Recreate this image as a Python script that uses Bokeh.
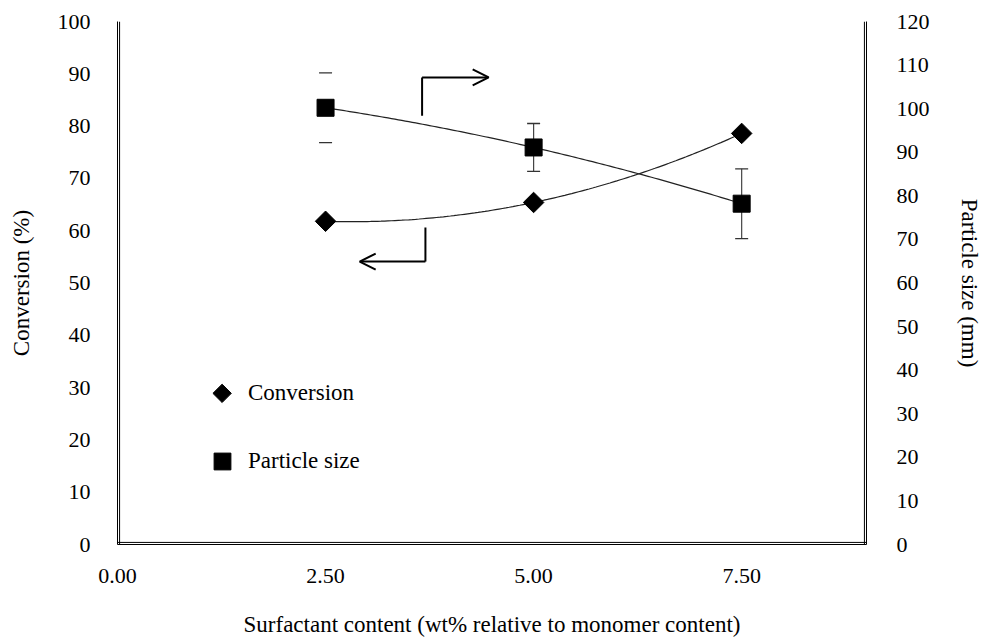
import numpy as np
from bokeh.plotting import figure
from bokeh.models import (Range1d, LinearAxis, FixedTicker, PrintfTickFormatter, Whisker,
                          ColumnDataSource, Arrow, OpenHead, TeeHead, Legend, LegendItem, Span)
from bokeh.embed import file_html
from bokeh.resources import INLINE

# ---- data ----
surfactant = [2.5, 5.0, 7.5]
conversion = [61.8, 65.4, 78.6]
particle_size = [100.2, 91.1, 78.2]
particle_err = [8.0, 5.5, 8.0]
x_ticks = [0, 2.5, 5.0, 7.5]
conv_ticks = list(range(0, 101, 10))
size_ticks = list(range(0, 121, 10))

FONT = "Liberation Serif"

p = figure(width=984, height=639, x_range=Range1d(0, 9), y_range=Range1d(0, 100),
           output_backend="svg", toolbar_location=None,
           min_border_left=117, min_border_right=115, min_border_top=21, min_border_bottom=95)
p.extra_y_ranges = {"size": Range1d(0, 120)}
p.xgrid.visible = False
p.ygrid.visible = False
p.outline_line_color = None

# second-order trendlines (fitted to the data points)
xs = np.linspace(surfactant[0], surfactant[-1], 121)
conv_fit = np.polyval(np.polyfit(surfactant, conversion, 2), xs)
size_fit = np.polyval(np.polyfit(surfactant, particle_size, 2), xs)
p.line(xs, conv_fit, line_color="#222222", line_width=1.2)
p.line(xs, size_fit, line_color="#222222", line_width=1.2, y_range_name="size")

# error bars on particle size
up = [s + e for s, e in zip(particle_size, particle_err)]
lo = [s - e for s, e in zip(particle_size, particle_err)]
src_first = ColumnDataSource(dict(x=surfactant[:1], upper=up[:1], lower=lo[:1]))
src_rest = ColumnDataSource(dict(x=surfactant[1:], upper=up[1:], lower=lo[1:]))
p.add_layout(Whisker(source=src_first, base="x", upper="upper", lower="lower", y_range_name="size",
                     line_alpha=0,
                     upper_head=TeeHead(size=13, line_color="#333333", line_width=1.3),
                     lower_head=TeeHead(size=13, line_color="#333333", line_width=1.3)))
p.add_layout(Whisker(source=src_rest, base="x", upper="upper", lower="lower", y_range_name="size",
                     line_color="#444444", line_width=1.2,
                     upper_head=TeeHead(size=13, line_color="#333333", line_width=1.3),
                     lower_head=TeeHead(size=13, line_color="#333333", line_width=1.3)))

r_conv = p.scatter(surfactant, conversion, marker="square", angle=np.pi / 4, size=14.5,
                   fill_color="black", line_color="black")
r_size = p.scatter(surfactant, particle_size, marker="square", size=17,
                   fill_color="black", line_color="black", y_range_name="size")

# axes
xa = p.xaxis[0]
xa.ticker = FixedTicker(ticks=x_ticks)
xa.formatter = PrintfTickFormatter(format="%.2f")
xa.axis_label = "Surfactant content (wt% relative to monomer content)"

ya = p.yaxis[0]
ya.ticker = FixedTicker(ticks=conv_ticks)
ya.axis_label = "Conversion (%)"

yr = LinearAxis(y_range_name="size", ticker=FixedTicker(ticks=size_ticks),
                axis_label="Particle size (mm)")
p.add_layout(yr, "right")

for ax in (xa, ya, yr):
    ax.axis_line_color = "black"
    ax.axis_line_width = 1
    ax.major_tick_in = 0
    ax.major_tick_out = 0
    ax.minor_tick_in = 0
    ax.minor_tick_out = 0
    ax.major_label_text_font = FONT
    ax.major_label_text_font_size = "22px"
    ax.major_label_text_color = "black"
    ax.axis_label_text_font = FONT
    ax.axis_label_text_font_size = "23px"
    ax.axis_label_text_font_style = "normal"
    ax.axis_label_text_color = "black"

xa.major_label_standoff = 24
xa.axis_label_standoff = 26
ya.major_label_standoff = 27
ya.axis_label_standoff = 21
yr.major_label_standoff = 30
yr.axis_label_standoff = 24

# inner lines of the double frame
for loc in (0.025, 9 - 0.025):
    p.add_layout(Span(location=loc, dimension="height", line_color="black", line_width=1))
p.add_layout(Span(location=0.4, dimension="width", line_color="black", line_width=1))

# arrows pointing to the relevant axis
p.add_layout(Arrow(x_start=3.66, y_start=82.0, x_end=3.66, y_end=89.3, end=None,
                   line_width=2, line_color="black"))
p.add_layout(Arrow(x_start=3.66, y_start=89.3, x_end=4.46, y_end=89.3,
                   end=OpenHead(size=16, line_width=2, line_color="black"),
                   line_width=2, line_color="black"))
p.add_layout(Arrow(x_start=3.70, y_start=60.6, x_end=3.70, y_end=54.1, end=None,
                   line_width=2, line_color="black"))
p.add_layout(Arrow(x_start=3.70, y_start=54.1, x_end=2.91, y_end=54.1,
                   end=OpenHead(size=16, line_width=2, line_color="black"),
                   line_width=2, line_color="black"))

# legend: the conversion key is a rotated square (legend glyphs ignore angle),
# so its legend slot is left blank and the key is drawn on top of it
r_conv_key = p.scatter([], [], marker="square", size=1, fill_alpha=0, line_alpha=0)
legend = Legend(items=[LegendItem(label="Conversion", renderers=[r_conv_key]),
                       LegendItem(label="Particle size", renderers=[r_size])],
                location=(84, 62), glyph_width=42, glyph_height=42, spacing=26,
                padding=0, margin=0, border_line_color=None, background_fill_alpha=0,
                label_text_font=FONT, label_text_font_size="23px", label_standoff=5,
                label_text_color="black")
p.add_layout(legend)
p.scatter([1.257], [28.9], marker="square", angle=np.pi / 4, size=13,
          fill_color="black", line_color="black")

open("out.html", "w").write(file_html(p, INLINE))
